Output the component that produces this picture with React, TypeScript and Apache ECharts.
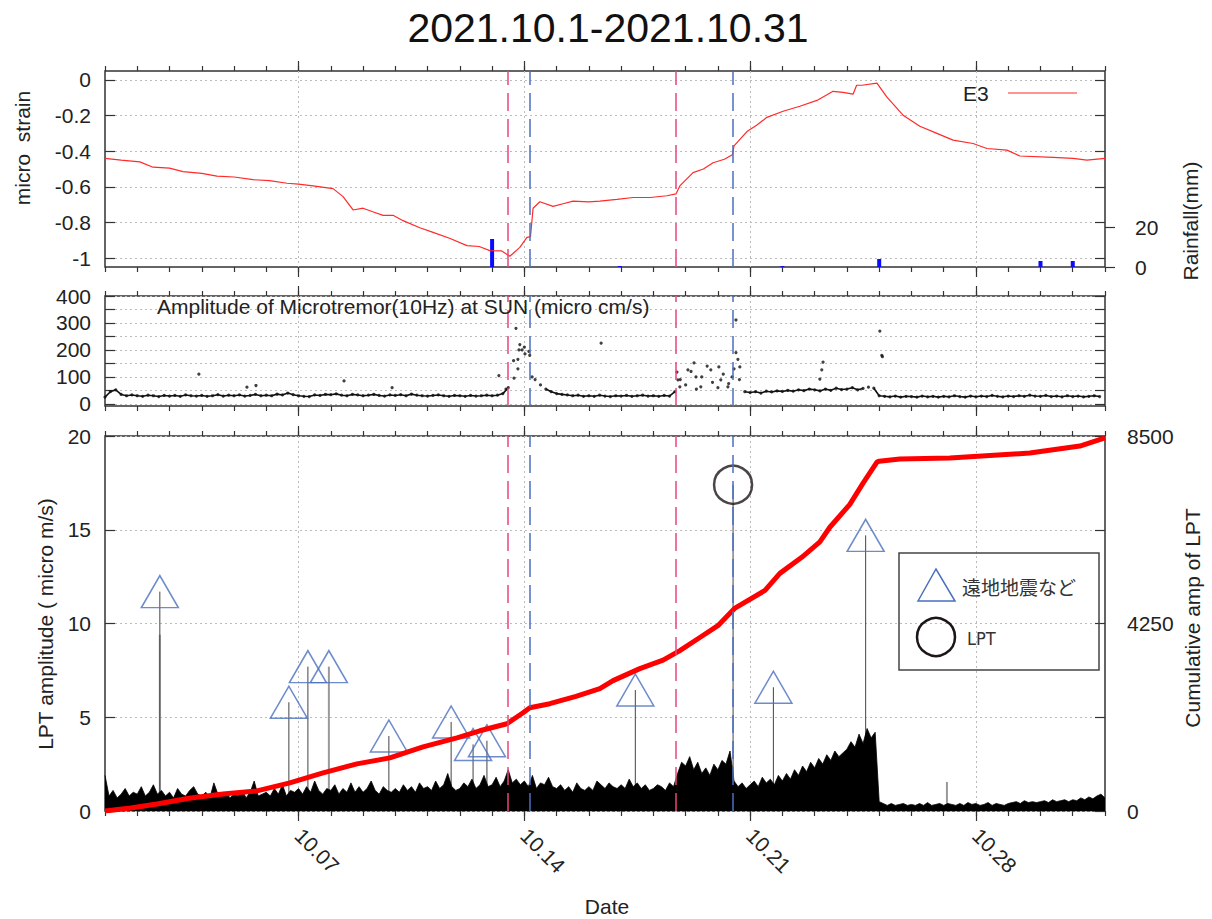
import React, { useEffect, useRef } from "react";
import * as echarts from "echarts";

const FONT = "'Liberation Sans', Arial, Helvetica, sans-serif";

// ---- Top panel: strain (E3) ----
const strainDays = [0, 0.5, 1.08, 1.49, 2.0, 2.42, 3.0, 3.47, 4.0, 4.59, 5.1, 5.64, 6.0, 6.45, 7.07, 7.38, 7.69, 8.0, 8.3, 8.62, 8.93, 9.24, 9.76, 10.17, 10.7, 11.22, 11.6, 11.93, 12.3, 12.55, 12.86, 13.08, 13.19, 13.27, 13.48, 13.89, 14.2, 14.51, 15.0, 15.34, 15.87, 16.37, 16.9, 17.42, 17.7, 17.82, 18.23, 18.55, 18.85, 19.2, 19.45, 19.5, 19.9, 20.2, 20.52, 21.02, 21.54, 22.07, 22.57, 22.88, 23.19, 23.3, 23.47, 23.93, 24.24, 24.74, 25.26, 25.79, 26.29, 26.91, 27.34, 27.96, 28.36, 29.39, 30.01, 30.44, 31];
const strainVals = [-0.44, -0.45, -0.46, -0.49, -0.495, -0.515, -0.525, -0.54, -0.545, -0.56, -0.565, -0.58, -0.585, -0.595, -0.61, -0.655, -0.73, -0.72, -0.74, -0.76, -0.76, -0.79, -0.83, -0.856, -0.89, -0.93, -0.935, -0.958, -0.96, -0.99, -0.94, -0.884, -0.88, -0.72, -0.684, -0.71, -0.695, -0.68, -0.685, -0.68, -0.67, -0.66, -0.66, -0.65, -0.64, -0.595, -0.52, -0.5, -0.465, -0.445, -0.42, -0.37, -0.29, -0.255, -0.21, -0.176, -0.148, -0.115, -0.064, -0.07, -0.08, -0.03, -0.03, -0.018, -0.097, -0.198, -0.26, -0.3, -0.338, -0.357, -0.385, -0.394, -0.427, -0.435, -0.44, -0.45, -0.44];

// rainfall (mm)
const rainDays = [12.0, 15.96, 21.0, 24.0, 29.0, 30.0];
const rainVals = [14, 0.5, 0.5, 4, 3, 3];

// ---- Middle panel: microtremor amplitude, 4-hourly (6 per day) ----
const tremorRows = [
  [25, 45, 52, 35, 30, 33],
  [30, 28, 32, 30, 27, 31],
  [29, 31, 28, 33, 30, 29],
  [31, 28, 30, 34, 29, 32],
  [30, 33, 29, 31, 35, 30],
  [32, 30, 36, 33, 40, 34],
  [30, 28, 27, 33, 31, 35],
  [34, 37, 32, 30, 35, 33],
  [30, 32, 35, 31, 29, 33],
  [31, 34, 30, 36, 32, 30],
  [29, 31, 33, 30, 28, 31],
  [30, 28, 31, 29, 30, 32],
  [30, 32, 38, 60, 160, 200],
  [210, 180, 90, 70, 55, 45],
  [38, 35, 33, 30, 32, 28],
  [30, 28, 32, 29, 27, 30],
  [29, 31, 28, 30, 32, 29],
  [30, 28, 31, 29, 45, 90],
  [70, 120, 55, 100, 140, 80],
  [60, 110, 75, 130, 90, 45],
  [42, 45, 40, 47, 44, 48],
  [46, 50, 47, 52, 49, 55],
  [52, 48, 55, 50, 58, 53],
  [55, 60, 52, 57, 62, 58],
  [30, 28, 26, 29, 25, 28],
  [27, 25, 29, 26, 28, 25],
  [28, 26, 30, 27, 25, 29],
  [26, 29, 27, 31, 28, 26],
  [29, 27, 30, 28, 32, 29],
  [28, 31, 27, 29, 26, 30],
  [27, 29, 26, 28, 30, 27],
];
const tremorOutDays = [2.91, 4.4, 4.68, 7.41, 8.9, 12.21, 12.43, 12.68, 12.74, 12.8, 12.8, 12.86, 12.93, 13.02, 13.14, 13.24, 15.38, 17.73, 17.76, 17.82, 18.07, 18.26, 18.32, 18.47, 18.78, 19.03, 19.09, 19.31, 19.44, 19.56, 19.56, 19.62, 19.68, 22.16, 22.22, 22.26, 24.02, 24.08, 24.1];
const tremorOutVals = [110, 62, 68, 85, 60, 105, 55, 95, 280, 165, 130, 220, 200, 185, 195, 100, 225, 118, 89, 63, 126, 152, 100, 63, 126, 137, 89, 63, 100, 311, 190, 165, 137, 92, 126, 155, 270, 180, 175];
const tremorBaseMax = 60; // values above this are plotted as isolated dots only

// ---- Bottom panel: LPT amplitude, 3-hourly (8 per day) ----
const lptRows = [
  [1.9, 0.8, 1.1, 0.7, 0.9, 1.2, 0.8, 1.0],
  [0.9, 1.3, 0.8, 1.0, 1.4, 0.9, 1.1, 0.8],
  [1.0, 0.7, 1.2, 0.9, 0.8, 1.1, 1.3, 0.9],
  [0.8, 1.0, 0.7, 1.5, 0.9, 0.8, 1.0, 0.7],
  [0.9, 0.8, 1.1, 0.7, 1.0, 1.6, 0.8, 0.9],
  [1.0, 0.8, 1.2, 0.9, 1.4, 0.8, 1.1, 1.0],
  [1.2, 0.9, 1.3, 1.0, 1.6, 1.1, 0.9, 1.2],
  [1.1, 1.4, 0.9, 1.2, 1.0, 1.5, 1.0, 1.3],
  [1.0, 1.2, 1.6, 1.1, 0.9, 1.3, 1.1, 1.0],
  [1.2, 1.0, 1.4, 1.1, 1.3, 1.0, 1.5, 1.2],
  [1.3, 1.1, 1.6, 1.2, 1.4, 2.0, 1.3, 1.1],
  [1.2, 1.5, 1.3, 1.7, 1.2, 1.4, 1.9, 1.3],
  [1.4, 1.8, 1.3, 1.6, 2.2, 1.5, 1.7, 1.4],
  [1.6, 1.3, 1.9, 1.2, 1.5, 1.4, 1.8, 1.3],
  [1.2, 1.4, 1.1, 1.3, 1.0, 1.5, 1.2, 1.1],
  [1.3, 1.1, 1.6, 1.4, 1.2, 1.5, 1.3, 1.2],
  [1.4, 1.2, 1.7, 1.3, 1.5, 1.2, 1.4, 1.1],
  [1.2, 1.4, 1.3, 1.1, 1.5, 1.3, 2.0, 2.6],
  [2.4, 2.9, 2.2, 2.6, 2.0, 2.3, 1.9, 2.5],
  [2.2, 2.7, 2.5, 3.2, 1.6, 1.3, 1.5, 1.2],
  [1.4, 1.6, 1.3, 1.8, 1.5, 1.7, 1.4, 1.9],
  [1.6, 2.0, 1.7, 2.2, 1.9, 2.4, 2.1, 2.6],
  [2.3, 2.8, 2.5, 3.0, 2.7, 3.2, 2.9, 3.1],
  [3.3, 3.7, 3.4, 4.1, 3.6, 4.4, 3.9, 4.2],
  [0.5, 0.4, 0.3, 0.4, 0.3, 0.35, 0.4, 0.3],
  [0.35, 0.3, 0.4, 0.3, 0.45, 0.3, 0.35, 0.4],
  [0.3, 0.4, 0.35, 0.3, 0.4, 0.3, 0.45, 0.35],
  [0.4, 0.3, 0.35, 0.45, 0.3, 0.4, 0.35, 0.3],
  [0.4, 0.45, 0.5, 0.4, 0.55, 0.45, 0.5, 0.45],
  [0.5, 0.55, 0.45, 0.6, 0.5, 0.55, 0.6, 0.5],
  [0.6, 0.55, 0.7, 0.6, 0.75, 0.65, 0.8, 0.9],
];
const lptEnd = 0.7;

// earthquakes (triangles) and LPT event (circle)
const quakeDays = [1.7, 5.7, 6.29, 6.94, 8.8, 10.73, 11.41, 11.84, 16.44, 20.72, 23.58];
const quakeAmps = [11.7, 5.8, 7.7, 7.7, 4.0, 4.75, 3.55, 3.75, 6.45, 6.6, 14.7];
const lptEventDays = [19.47];
const lptEventAmps = [17.4];
const darkSpikeDays = [1.7, 5.7, 6.29, 8.8, 10.73, 11.41, 11.84, 16.44, 19.47, 20.72, 23.58];
const darkSpikeAmps = [11.7, 5.8, 7.7, 4.0, 4.75, 3.55, 3.75, 6.45, 17.4, 6.6, 14.7];
const graySpikeDays = [1.7, 6.94, 26.1];
const graySpikeAmps = [9.4, 7.7, 1.55];

// cumulative LPT amplitude
const cumDays = [0, 0.8, 1.61, 2.6, 3.66, 4.71, 5.73, 6.76, 7.81, 8.83, 9.86, 10.91, 11.62, 12.46, 12.96, 13.17, 13.79, 14.6, 15.34, 15.75, 16.58, 17.3, 17.82, 18.44, 19.0, 19.53, 20.46, 20.92, 21.6, 22.16, 22.47, 23.09, 23.5, 23.93, 24.0, 24.64, 26.19, 28.67, 30.22, 31];
const cumVals = [0, 70, 159, 290, 386, 455, 636, 864, 1068, 1205, 1455, 1659, 1818, 1977, 2227, 2341, 2432, 2600, 2773, 2955, 3227, 3420, 3636, 3932, 4200, 4600, 5000, 5386, 5750, 6100, 6432, 6950, 7432, 7909, 7930, 7978, 8000, 8114, 8273, 8455];

// event marker lines
const redEventDays = [12.49, 17.7];
const blueEventDays = [13.17, 19.47];

// tick labels
const majorDays = [6, 13, 20, 27];
const strainTicks = [-1, -0.8, -0.6, -0.4, -0.2, 0];
const tremorTicks = [0, 50, 100, 150, 200, 250, 300, 350, 400];
const tremorLabels = [0, 100, 200, 300, 400];
const rainTicks = [0, 20];

const zip = (a: number[], b: number[]) => a.map((v, i) => [v, b[i]]);

export default function App() {
  const ref = useRef<HTMLDivElement>(null);
  useEffect(() => {
    document.body.style.margin = "0";
    const chart = echarts.init(ref.current!, null, { renderer: "svg" });

    const labelStyle = { color: "#222", fontSize: 21, fontFamily: FONT };
    const dotted = { show: true, lineStyle: { color: "#bbb", type: [2, 3], width: 1 } };
    const tickLine = { color: "#333", width: 1.2 };

    const xAxes: any[] = [];
    for (let g = 0; g < 3; g++) {
      for (const pos of ["bottom", "top"]) {
        xAxes.push({
          type: "value", gridIndex: g, position: pos, min: 0, max: 31, interval: 1,
          axisLine: { show: false, onZero: false },
          axisTick: { show: true, length: 5, lineStyle: tickLine },
          axisLabel: { show: false }, splitLine: { show: false },
        });
        xAxes.push({
          type: "value", gridIndex: g, position: pos, min: 0, max: 31,
          axisLine: { show: false, onZero: false },
          axisTick: { show: true, length: 10, customValues: majorDays, lineStyle: tickLine },
          axisLabel: g === 2 && pos === "bottom"
            ? { show: true, customValues: majorDays, rotate: -45, margin: 21, ...labelStyle,
                formatter: (v: number) => "10." + String(Math.round(v) + 1).padStart(2, "0") }
            : { show: false },
          splitLine: pos === "bottom" ? dotted : { show: false },
        });
      }
    }

    const yAxes: any[] = [
      { type: "value", gridIndex: 0, position: "left", min: -1.05, max: 0.05,
        axisLine: { show: false, onZero: false },
        axisTick: { inside: true, length: 10, customValues: strainTicks, lineStyle: tickLine },
        axisLabel: { customValues: strainTicks, margin: 14, ...labelStyle,
          formatter: (v: number) => { const r = Math.round(v * 10) / 10; return r === 0 ? "0" : String(r); } },
        splitLine: dotted },
      { type: "value", gridIndex: 0, position: "right", min: -1.05, max: 0.05,
        axisLine: { show: false, onZero: false },
        axisTick: { inside: true, length: 10, customValues: strainTicks, lineStyle: tickLine },
        axisLabel: { show: false }, splitLine: { show: false } },
      { type: "value", gridIndex: 0, position: "right", min: 0, max: 98,
        axisLine: { show: false, onZero: false },
        axisTick: { inside: false, length: 10, customValues: rainTicks, lineStyle: tickLine },
        axisLabel: { customValues: rainTicks, margin: 30, ...labelStyle },
        splitLine: { show: false } },
      { type: "value", gridIndex: 1, position: "left", min: -8, max: 400,
        axisLine: { show: false, onZero: false },
        axisTick: { inside: true, length: 10, customValues: tremorTicks, lineStyle: tickLine },
        axisLabel: { customValues: tremorLabels, margin: 14, ...labelStyle },
        splitLine: dotted },
      { type: "value", gridIndex: 1, position: "right", min: -8, max: 400,
        axisLine: { show: false, onZero: false },
        axisTick: { inside: true, length: 10, customValues: tremorTicks, lineStyle: tickLine },
        axisLabel: { show: false }, splitLine: { show: false } },
      { type: "value", gridIndex: 2, position: "left", min: 0, max: 20, interval: 5,
        axisLine: { show: false, onZero: false },
        axisTick: { inside: true, length: 10, lineStyle: tickLine },
        axisLabel: { margin: 14, ...labelStyle },
        splitLine: dotted },
      { type: "value", gridIndex: 2, position: "right", min: 0, max: 8500, interval: 2125,
        axisLine: { show: false, onZero: false },
        axisTick: { inside: true, length: 10, lineStyle: tickLine },
        axisLabel: { margin: 22, ...labelStyle,
          formatter: (v: number) => (v === 0 || v === 4250 || v === 8500 ? String(v) : "") },
        splitLine: { show: false } },
    ];

    const eventLines = {
      silent: true, symbol: ["none", "none"], label: { show: false }, z: 6,
      data: [
        ...redEventDays.map((d) => ({ xAxis: d, lineStyle: { color: "#e8467c", type: [18, 8], width: 1.5 } })),
        ...blueEventDays.map((d) => ({ xAxis: d, lineStyle: { color: "#4a6fc0", type: [18, 8], width: 1.5 } })),
      ],
    };

    const lptData: number[][] = [];
    lptRows.forEach((row, d) => row.forEach((v, k) => lptData.push([d + k / 8, v])));
    lptData.push([31, lptEnd]);
    const tremorData: number[][] = [];
    tremorRows.forEach((row, d) => row.forEach((v, k) => tremorData.push([d + k / 6, v])));
    const tremorBase: any[] = tremorData.map(([d, v]) => (v > tremorBaseMax ? [d, "-"] : [d, v]));

    const spikeRender = (color: string, width: number) => (params: any, api: any) => {
      const p0 = api.coord([api.value(0), 0]);
      const p1 = api.coord([api.value(0), api.value(1)]);
      return { type: "line", shape: { x1: p0[0], y1: p0[1], x2: p1[0], y2: p1[1] },
        style: { stroke: color, lineWidth: width } };
    };

    const series: any[] = [
      { type: "line", xAxisIndex: 0, yAxisIndex: 0, data: zip(strainDays, strainVals), showSymbol: false,
        lineStyle: { color: "#ff2a2a", width: 1.2 }, markLine: eventLines },
      { type: "bar", xAxisIndex: 0, yAxisIndex: 2, data: zip(rainDays, rainVals), barWidth: 4,
        itemStyle: { color: "#0a0aff" } },
      { type: "line", xAxisIndex: 4, yAxisIndex: 3, data: tremorBase, showSymbol: false, connectNulls: false,
        lineStyle: { color: "#111", width: 1.6 }, markLine: eventLines },
      { type: "scatter", xAxisIndex: 4, yAxisIndex: 3, data: tremorData, symbolSize: 3.2,
        itemStyle: { color: "#111" } },
      { type: "scatter", xAxisIndex: 4, yAxisIndex: 3, data: zip(tremorOutDays, tremorOutVals), symbolSize: 3.2,
        itemStyle: { color: "#111" } },
      { type: "line", xAxisIndex: 8, yAxisIndex: 5, data: lptData, showSymbol: false,
        lineStyle: { color: "#000", width: 0.8 }, areaStyle: { color: "#000", opacity: 1 }, markLine: eventLines },
      { type: "custom", xAxisIndex: 8, yAxisIndex: 5, data: zip(graySpikeDays, graySpikeAmps),
        renderItem: spikeRender("#999", 2) },
      { type: "custom", xAxisIndex: 8, yAxisIndex: 5, data: zip(darkSpikeDays, darkSpikeAmps),
        renderItem: spikeRender("#444", 1) },
      { type: "scatter", xAxisIndex: 8, yAxisIndex: 5, data: zip(quakeDays, quakeAmps), symbol: "triangle",
        symbolSize: [37, 32], itemStyle: { color: "rgba(0,0,0,0)", borderColor: "#4a6fbe", borderWidth: 1.5 } },
      { type: "scatter", xAxisIndex: 8, yAxisIndex: 5, data: zip(lptEventDays, lptEventAmps), symbol: "circle",
        symbolSize: 38, itemStyle: { color: "rgba(0,0,0,0)", borderColor: "#1e1616", borderWidth: 2.5 } },
      { type: "line", xAxisIndex: 8, yAxisIndex: 6, data: zip(cumDays, cumVals), showSymbol: false,
        lineStyle: { color: "#ff0000", width: 5 } },
    ];

    const txt = (x: number, y: number, text: string, size: number, extra: any = {}) => ({
      type: "text", x, y, z: 10,
      style: { text, fontSize: size, fontFamily: FONT, fill: "#222", align: "center", verticalAlign: "middle", ...extra.style },
      ...(extra.rotation !== undefined ? { rotation: extra.rotation } : {}),
    });

    const graphic: any[] = [
      txt(608, 28, "2021.10.1-2021.10.31", 41, { style: { fill: "#111" } }),
      txt(22, 148, "micro  strain", 21, { rotation: Math.PI / 2 }),
      txt(1190, 221, "Rainfall(mm)", 21, { rotation: Math.PI / 2 }),
      txt(45, 624, "LPT amplitude ( micro m/s)", 21, { rotation: Math.PI / 2 }),
      txt(1192, 618, "Cumulative amp of LPT", 21, { rotation: Math.PI / 2 }),
      txt(607, 906, "Date", 21),
      txt(157, 306, "Amplitude of Microtremor(10Hz) at SUN (micro cm/s)", 21, { style: { align: "left" } }),
      txt(963, 93, "E3", 21, { style: { align: "left" } }),
      { type: "line", z: 10, shape: { x1: 1008, y1: 93, x2: 1077, y2: 93 }, style: { stroke: "#ff2a2a", lineWidth: 1.2 } },
      { type: "rect", z: 10, shape: { x: 899, y: 553, width: 200, height: 117 },
        style: { fill: "none", stroke: "#444", lineWidth: 1.5 } },
      { type: "polygon", z: 10, shape: { points: [[918, 601], [936, 569], [955, 601]] },
        style: { fill: "none", stroke: "#4a6fbe", lineWidth: 1.5 } },
      txt(962, 586, "遠地地震など", 19, { style: { align: "left", fontFamily: "'Noto Sans CJK JP', sans-serif", fill: "#333" } }),
      { type: "circle", z: 10, shape: { cx: 936, cy: 637, r: 19 }, style: { fill: "none", stroke: "#1e1616", lineWidth: 2.5 } },
      txt(967, 638, "LPT", 18, { style: { align: "left", fontFamily: "'Liberation Sans Narrow', 'DejaVu Sans Condensed', sans-serif", fill: "#333" } }),
    ];

    chart.setOption({
      animation: false,
      backgroundColor: "#fff",
      textStyle: { fontFamily: FONT },
      grid: [
        { left: 105, top: 71, width: 1000, height: 196, show: true, borderColor: "#333", borderWidth: 1.5, backgroundColor: "transparent" },
        { left: 105, top: 296, width: 1000, height: 110, show: true, borderColor: "#333", borderWidth: 1.5, backgroundColor: "transparent" },
        { left: 105, top: 436, width: 1000, height: 375, show: true, borderColor: "#333", borderWidth: 1.5, backgroundColor: "transparent" },
      ],
      xAxis: xAxes,
      yAxis: yAxes,
      series,
      graphic,
    });
    return () => chart.dispose();
  }, []);
  return <div ref={ref} style={{ position: "absolute", left: 0, top: 0, width: 1212, height: 919 }} />;
}
